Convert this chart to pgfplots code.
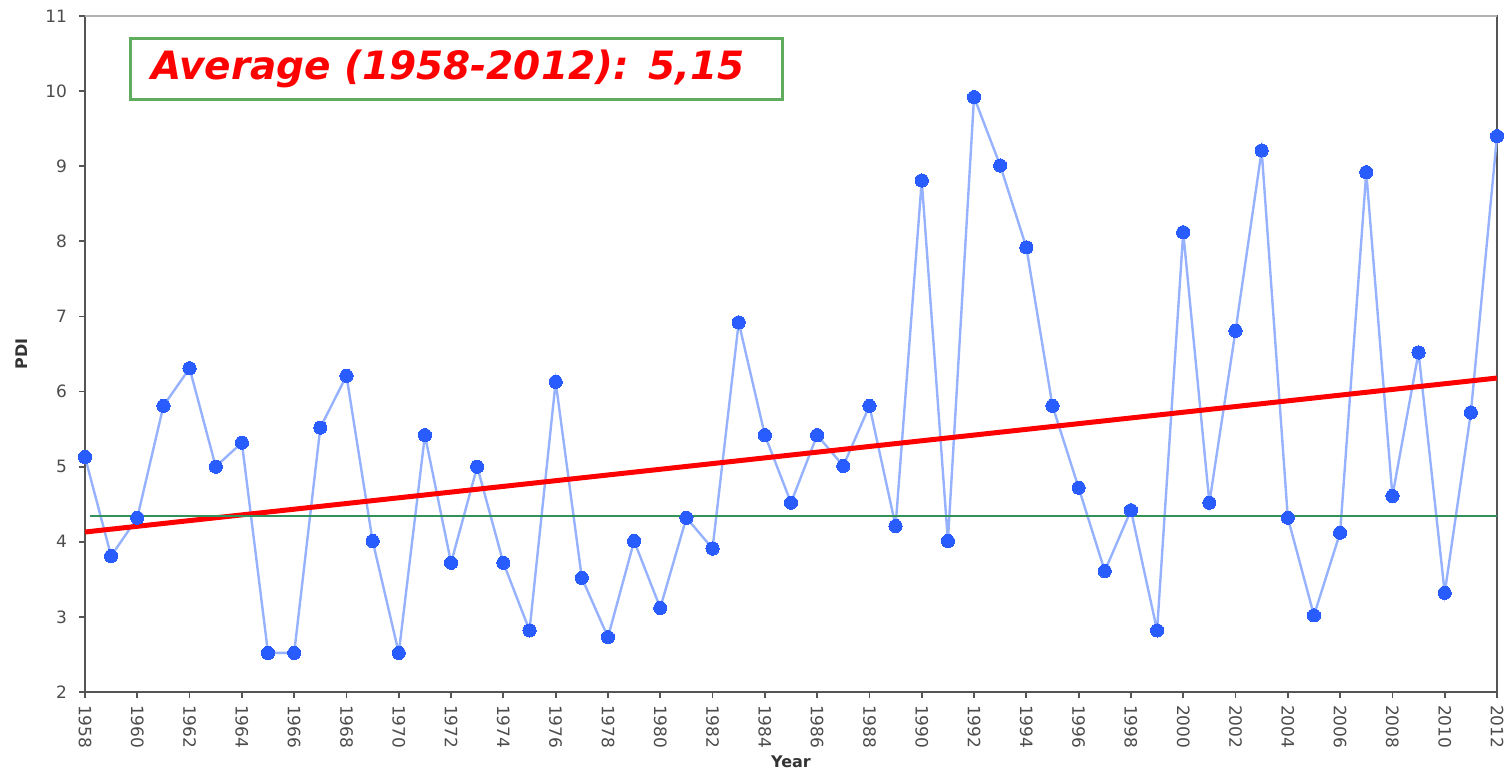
\documentclass[border=0pt]{standalone}
\usepackage{pgfplots}
\pgfplotsset{compat=1.18}
\usepackage{pgfplotstable}
\usepackage{fontspec}
\setmainfont{DejaVu Sans}
\definecolor{markblue}{RGB}{40,92,255}
\definecolor{lineblue}{RGB}{150,178,255}
\definecolor{avggreen}{RGB}{50,145,90}
\definecolor{boxgreen}{RGB}{95,172,95}
\definecolor{axgray}{RGB}{85,85,85}

\pgfplotstableread{
year pdi
1958 5.13
1959 3.81
1960 4.32
1961 5.81
1962 6.31
1963 5.00
1964 5.32
1965 2.52
1966 2.52
1967 5.52
1968 6.21
1969 4.01
1970 2.52
1971 5.42
1972 3.72
1973 5.00
1974 3.72
1975 2.82
1976 6.13
1977 3.52
1978 2.73
1979 4.01
1980 3.12
1981 4.32
1982 3.91
1983 6.92
1984 5.42
1985 4.52
1986 5.42
1987 5.01
1988 5.81
1989 4.21
1990 8.81
1991 4.01
1992 9.92
1993 9.01
1994 7.92
1995 5.81
1996 4.72
1997 3.61
1998 4.42
1999 2.82
2000 8.12
2001 4.52
2002 6.81
2003 9.21
2004 4.32
2005 3.02
2006 4.12
2007 8.92
2008 4.61
2009 6.52
2010 3.32
2011 5.72
2012 9.40
}\pdidata

\pgfplotstableread{
year trend
1958 4.13
2012 6.18
}\trenddata

\pgfplotstableread{
year avg
1958.2 4.34
2012 4.34
}\avgdata

\begin{document}
\begin{tikzpicture}
\begin{axis}[
  scale only axis,
  width=706pt, height=338pt,
  xmin=1958, xmax=2012, ymin=2, ymax=11,
  xtick={1958,1960,...,2012},
  minor x tick num=1,
  ytick={2,3,...,11},
  tick align=outside,
  major tick length=3pt, minor tick length=3pt,
  every tick/.style={axgray, line width=0.9pt},
  xtick pos=bottom, ytick pos=left,
  axis line style={axgray, line width=1.3pt},
  /pgf/number format/1000 sep={},
  /pgf/number format/assume math mode=true,
  tick label style={font=\fontsize{8.5}{9}\selectfont, text=black!70},
  xticklabel style={rotate=-90, anchor=west},
  yticklabel style={xshift=-2.5pt},
  xlabel={Year}, ylabel={PDI},
  label style={font=\bfseries\fontsize{8}{9}\selectfont, text=black!80},
  xlabel style={at={(axis description cs:0.5,0)}, anchor=center, yshift=-35pt},
  ylabel style={at={(axis description cs:0,0.5)}, anchor=center, yshift=31.5pt},
  clip=false,
]
\draw[gray!60, line width=1.3pt] (rel axis cs:0,1) -- (rel axis cs:1,1);
\addplot[lineblue, line width=1.2pt, mark=*, mark size=3.3pt,
  mark options={fill=markblue, draw=markblue, line width=0pt}]
  table[x=year, y=pdi] {\pdidata};
\addplot[red, line width=2.5pt] table[x=year, y=trend] {\trenddata};
\addplot[avggreen, line width=1.1pt] table[x=year, y=avg] {\avgdata};
\node[draw=boxgreen, line width=1.3pt, fill=white, anchor=north west,
  text width=305pt, align=left, inner xsep=10.5pt, inner ysep=0pt,
  minimum height=30.5pt, text=red,
  font=\fontsize{19.5}{22}\selectfont\bfseries\itshape]
  at (rel axis cs:0.0312,0.969) {Average (1958-2012): 5,15};
\end{axis}
\pgfresetboundingbox
\path ([shift={(-42.5pt,-39pt)}]current axis.south west) rectangle ([shift={(6pt,8pt)}]current axis.north east);
\end{tikzpicture}
\end{document}
